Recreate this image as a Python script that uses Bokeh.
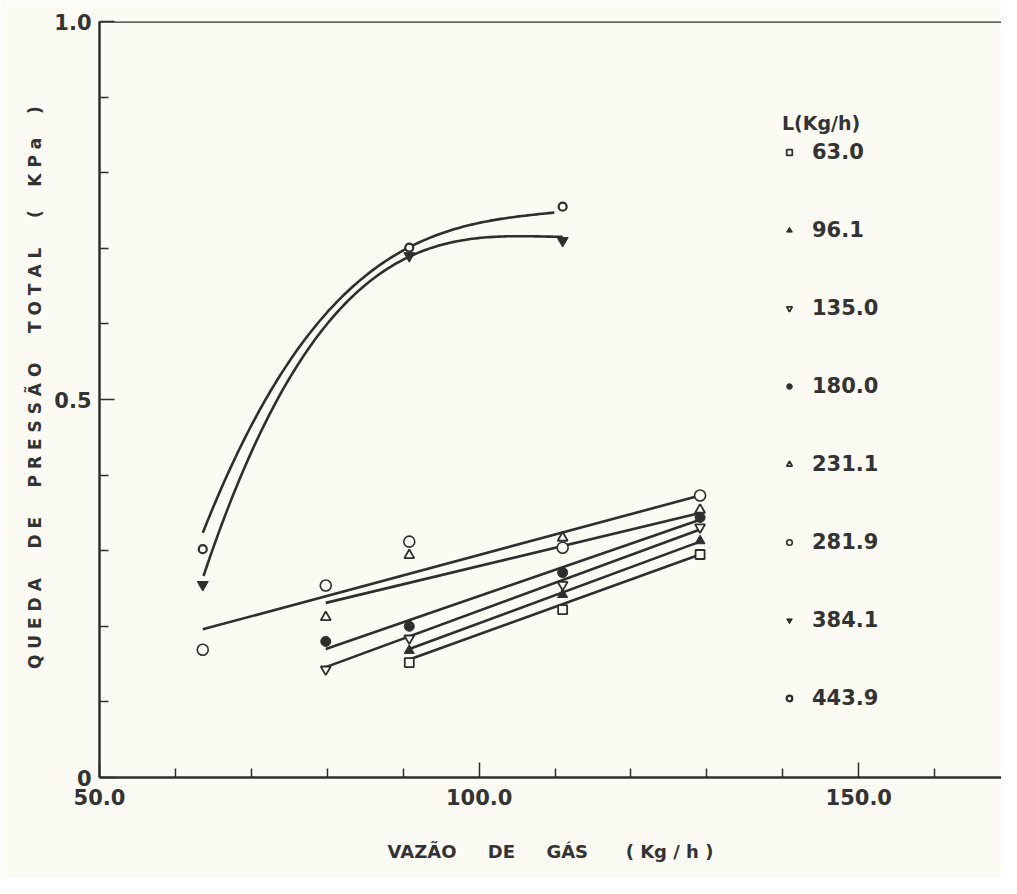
import numpy as np
from bokeh.plotting import figure
from bokeh.models import FixedTicker, Span, Legend, LegendItem
from bokeh.embed import file_html
from bokeh.resources import INLINE

# ---------------- data ----------------
gas_63 = [90.8, 111.0, 129.1]
dp_63 = [0.152, 0.222, 0.295]
gas_96 = [90.8, 111.0, 129.1]
dp_96 = [0.168, 0.242, 0.313]
gas_135 = [79.8, 90.8, 111.0, 129.1]
dp_135 = [0.143, 0.184, 0.255, 0.331]
gas_180 = [79.8, 90.8, 111.0, 129.1]
dp_180 = [0.180, 0.200, 0.271, 0.344]
gas_231 = [79.8, 90.8, 111.0, 129.1]
dp_231 = [0.212, 0.294, 0.317, 0.354]
gas_282 = [63.6, 79.8, 90.8, 111.0, 129.1]
dp_282 = [0.169, 0.254, 0.312, 0.304, 0.373]
gas_384 = [63.6, 90.8, 111.0]
dp_384 = [0.255, 0.690, 0.710]
gas_444 = [63.6, 90.8, 111.0]
dp_444 = [0.302, 0.701, 0.755]

# fitted lines (end points)
fit_282_x = [63.6, 129.1]
fit_282_y = [0.196, 0.373]
fit_231_x = [79.8, 129.1]
fit_231_y = [0.231, 0.350]
fit_180_x = [79.8, 129.1]
fit_180_y = [0.170, 0.341]
fit_135_x = [79.8, 129.1]
fit_135_y = [0.146, 0.328]
fit_96_x = [90.8, 129.1]
fit_96_y = [0.170, 0.312]
fit_63_x = [90.8, 129.1]
fit_63_y = [0.156, 0.295]

# fitted curves
curve_444_x = [63.6, 67.1, 71.9, 78.5, 85.6, 90.3, 99.1, 104.4, 109.9]
curve_444_y = [0.315, 0.417, 0.505, 0.593, 0.659, 0.704, 0.734, 0.743, 0.745]
curve_384_x = [63.7, 65.3, 68.6, 73.5, 80.3, 87.3, 90.3, 99.1, 103.5, 108.0, 111.0]
curve_384_y = [0.253, 0.315, 0.417, 0.505, 0.593, 0.659, 0.690, 0.717, 0.721, 0.717, 0.710]

legend_title = "L(Kg/h)"
legend_labels = ["63.0", "96.1", "135.0", "180.0", "231.1", "281.9", "384.1", "443.9"]

x_ticks = [50, 100, 150]
x_tick_labels = ["50.0", "100.0", "150.0"]
x_minor = [60, 70, 80, 90, 110, 120, 130, 140, 160]
y_ticks = [0, 0.5, 1.0]
y_tick_labels = ["0", "0.5", "1.0"]
y_minor = [0.1, 0.2, 0.3, 0.4, 0.6, 0.7, 0.8, 0.9]

NB = "\u00a0"
x_title = "VAZÃO" + NB * 5 + "DE" + NB * 5 + "GÁS" + NB * 6 + "( Kg / h )"
y_title = (NB * 4 + "Q U E D A" + NB * 5 + "D E" + NB * 5 + "P R E S S Ã O" + NB * 5
           + "T O T A L" + NB * 5 + "(" + NB * 4 + "K P a" + NB * 4 + ")")

# ---------------- style ----------------
INK = "#2e2e2e"
BG = "#fbfbf4"
FONT = "DejaVu Sans"

p = figure(width=1001, height=878, output_backend="svg", toolbar_location=None,
           x_range=(50, 168.8), y_range=(0, 1.0),
           min_border_left=99, min_border_top=21, min_border_right=0,
           min_border_bottom=101)
p.background_fill_color = BG
p.border_fill_color = BG
p.outline_line_color = None
p.grid.visible = False

for ax in (p.xaxis[0], p.yaxis[0]):
    ax.axis_line_color = INK
    ax.axis_line_width = 2.5
    ax.major_tick_line_color = INK
    ax.minor_tick_line_color = INK
    ax.major_tick_line_width = 1.5
    ax.minor_tick_line_width = 1.5
    ax.major_tick_in = 15
    ax.major_tick_out = 0
    ax.minor_tick_in = 9
    ax.minor_tick_out = 0
    ax.major_label_text_font = FONT
    ax.major_label_text_font_style = "bold"
    ax.major_label_text_font_size = "21px"
    ax.major_label_text_color = "#333333"
    ax.axis_label_text_font = FONT
    ax.axis_label_text_font_style = "bold"
    ax.axis_label_text_color = "#333333"

p.xaxis.ticker = FixedTicker(ticks=x_ticks, minor_ticks=x_minor)
p.xaxis.major_label_overrides = dict(zip(x_ticks, x_tick_labels))
p.xaxis.major_label_standoff = 11
p.xaxis.axis_label = x_title
p.xaxis.axis_label_text_font_size = "18px"
p.xaxis.axis_label_standoff = 33

p.yaxis.ticker = FixedTicker(ticks=y_ticks, minor_ticks=y_minor)
p.yaxis.major_label_overrides = {t: l for t, l in zip(y_ticks, y_tick_labels)}
p.yaxis.major_label_standoff = 8
p.yaxis.major_label_orientation = "horizontal"
p.yaxis.axis_label = y_title
p.yaxis.axis_label_text_font_size = "17px"
p.yaxis.axis_label_standoff = 6

p.add_layout(Span(location=1.0, dimension="width", line_color=INK, line_width=2.5))

LW = 2.6
for fx, fy in [(fit_282_x, fit_282_y), (fit_231_x, fit_231_y), (fit_180_x, fit_180_y),
               (fit_135_x, fit_135_y), (fit_96_x, fit_96_y), (fit_63_x, fit_63_y)]:
    p.line(fx, fy, line_color=INK, line_width=LW)

for cx, cy in [(curve_444_x, curve_444_y), (curve_384_x, curve_384_y)]:
    coef = np.polyfit(cx, cy, 3)
    xs = np.linspace(min(cx), max(cx), 120)
    p.line(xs, np.polyval(coef, xs), line_color=INK, line_width=LW)

r63 = p.scatter(gas_63, dp_63, marker="square", size=9, fill_color=BG, line_color=INK, line_width=1.8)
r96 = p.scatter(gas_96, dp_96, marker="triangle", size=10, fill_color=INK, line_color=INK)
r135 = p.scatter(gas_135, dp_135, marker="inverted_triangle", size=10, fill_color=BG, line_color=INK, line_width=1.8)
r180 = p.scatter(gas_180, dp_180, marker="circle", size=10, fill_color=INK, line_color=INK)
r231 = p.scatter(gas_231, dp_231, marker="triangle", size=10, fill_color=BG, line_color=INK, line_width=1.8)
r282 = p.scatter(gas_282, dp_282, marker="circle", size=11, fill_color=BG, line_color=INK, line_width=1.6)
r384 = p.scatter(gas_384, dp_384, marker="inverted_triangle", size=11, fill_color=INK, line_color=INK)
r444 = p.scatter(gas_444, dp_444, marker="circle", size=8, fill_color=BG, line_color=INK, line_width=2.2)

renderers = [r63, r96, r135, r180, r231, r282, r384, r444]
legend = Legend(items=[LegendItem(label=l, renderers=[r]) for l, r in zip(legend_labels, renderers)],
                location=(683, 67), title=legend_title)
legend.background_fill_alpha = 0
legend.border_line_color = None
legend.title_text_font = FONT
legend.title_text_font_style = "bold"
legend.title_text_font_size = "19px"
legend.title_text_color = "#333333"
legend.title_standoff = 6
legend.label_text_font = FONT
legend.label_text_font_style = "bold"
legend.label_text_font_size = "21px"
legend.label_text_color = "#333333"
legend.glyph_width = 14
legend.glyph_height = 20
legend.label_height = 20
legend.label_standoff = 16
legend.spacing = 54
legend.padding = 0
legend.margin = 0
p.add_layout(legend)

open("out.html", "w").write(file_html(p, INLINE))
